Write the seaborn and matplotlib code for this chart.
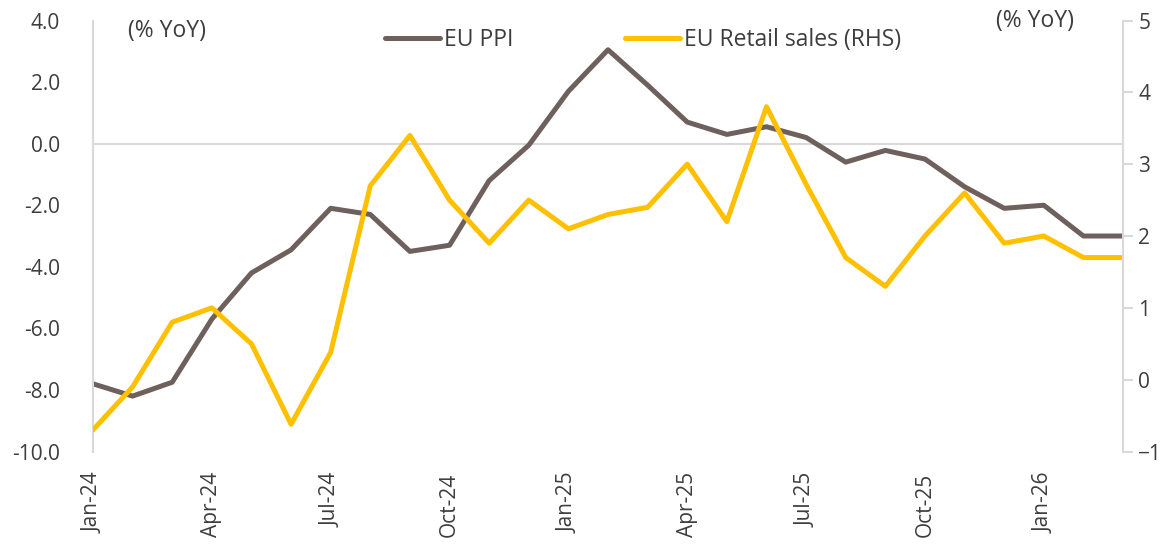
import pandas as pd
import matplotlib.pyplot as plt
import seaborn as sns

# monthly data, Jan-24 .. Mar-26
months = pd.date_range('2024-01-01', '2026-03-01', freq='MS')
ppi = [-7.8, -8.2, -7.75, -5.7, -4.2, -3.45, -2.1, -2.3, -3.5, -3.3, -1.2, -0.05,
       1.7, 3.05, 1.9, 0.7, 0.3, 0.55, 0.2, -0.6, -0.22, -0.5, -1.4, -2.1,
       -2.0, -3.0, -3.0]
retail = [-0.7, -0.1, 0.8, 1.0, 0.5, -0.62, 0.38, 2.7, 3.4, 2.5, 1.9, 2.5,
          2.1, 2.3, 2.4, 3.0, 2.2, 3.8, 2.72, 1.7, 1.3, 2.0, 2.6, 1.9,
          2.0, 1.7, 1.7]
tick_pos = list(range(0, 27, 3))
tick_labels = [months[i].strftime('%b-%y') for i in tick_pos]
left_ticks = [-10, -8, -6, -4, -2, 0, 2, 4]
right_ticks = [-1, 0, 1, 2, 3, 4, 5]

ppi_color = '#6e605c'
retail_color = '#ffc000'
text_color = '#3d3d3d'
grid_color = '#d9d9d9'

df = pd.DataFrame({'idx': range(len(months)), 'EU PPI': ppi, 'EU Retail sales (RHS)': retail})

sns.set_style('white')
plt.rcParams['font.family'] = ['Open Sans', 'DejaVu Sans']

fig, ax = plt.subplots(figsize=(11.65, 5.44), dpi=100)
fig.subplots_adjust(left=0.0798, right=0.964, bottom=0.17, top=0.9623)

sns.lineplot(data=df, x='idx', y='EU PPI', ax=ax, color=ppi_color, lw=3.6,
             label='EU PPI', legend=False)
ax.axhline(0, color=grid_color, lw=1.5, zorder=0)
ax.set_ylim(-10, 4)
ax.set_xlim(0, 26)
ax.set_yticks(left_ticks)
ax.set_yticklabels([f'{v:.1f}' for v in left_ticks])
ax.set_xticks(tick_pos)
ax.set_xticklabels(tick_labels, rotation=90)
ax.set_xlabel('')
ax.set_ylabel('')
ax.tick_params(axis='both', length=0, labelsize=15, labelcolor=text_color)
ax.tick_params(axis='y', pad=24)
ax.tick_params(axis='x', pad=15)
for s in ['top', 'right', 'bottom']:
    ax.spines[s].set_visible(False)
ax.spines['left'].set_color(grid_color)
ax.spines['left'].set_linewidth(1.5)

ax2 = ax.twinx()
sns.lineplot(data=df, x='idx', y='EU Retail sales (RHS)', ax=ax2, color=retail_color,
             lw=3.6, label='EU Retail sales (RHS)', legend=False)
ax2.set_ylim(-1, 5)
ax2.set_yticks(right_ticks)
ax2.set_ylabel('')
ax2.tick_params(axis='y', length=7, width=1.5, color=grid_color, labelsize=15,
                labelcolor=text_color, pad=4)
for s in ['top', 'left', 'bottom']:
    ax2.spines[s].set_visible(False)
ax2.spines['right'].set_color(grid_color)
ax2.spines['right'].set_linewidth(1.5)

h1, l1 = ax.get_legend_handles_labels()
h2, l2 = ax2.get_legend_handles_labels()
for h in h1 + h2:
    h.set_solid_capstyle('round')
fig.legend(h1 + h2, l1 + l2, loc='center', bbox_to_anchor=(0.552, 0.926), ncol=2,
           frameon=False, fontsize=16.5, labelcolor=text_color, handlelength=2.4,
           handletextpad=0.2, columnspacing=4.85)

fig.text(167 / 1165, 1 - 31 / 544, '(% YoY)', ha='center', va='center',
         fontsize=16.5, color=text_color)
fig.text(1035 / 1165, 1 - 21 / 544, '(% YoY)', ha='center', va='center',
         fontsize=16.5, color=text_color)

fig.savefig('out.png', dpi=100)
